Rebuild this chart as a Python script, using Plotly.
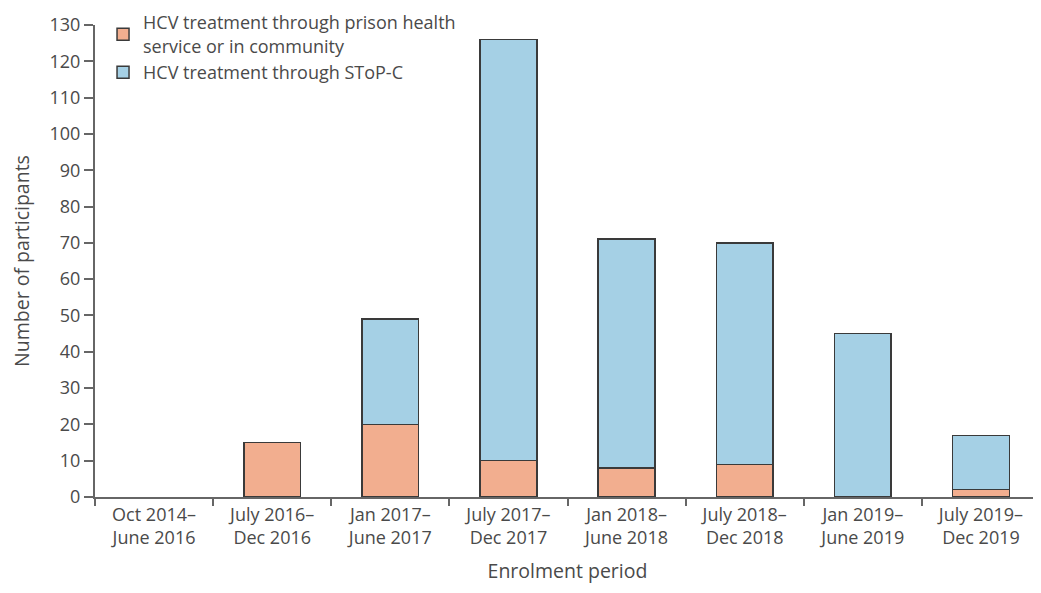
import plotly.graph_objects as go

categories = ["Oct 2014–<br>June 2016", "July 2016–<br>Dec 2016", "Jan 2017–<br>June 2017",
              "July 2017–<br>Dec 2017", "Jan 2018–<br>June 2018", "July 2018–<br>Dec 2018",
              "Jan 2019–<br>June 2019", "July 2019–<br>Dec 2019"]
prison_community = [None, 15, 20, 10, 8, 9, None, 2]
stop_c = [None, None, 29, 116, 63, 61, 45, 15]
y_ticks = list(range(0, 131, 10))

FONT = "Open Sans"
TXT = "#4a4a4a"

fig = go.Figure()
fig.add_trace(go.Bar(
    x=categories, y=prison_community,
    name="HCV treatment through prison health<br>service or in community",
    marker=dict(color="#F2AE8F", line=dict(color="#3a3a3a", width=1.5)),
    width=0.48,
))
fig.add_trace(go.Bar(
    x=categories, y=stop_c,
    name="HCV treatment through SToP-C",
    marker=dict(color="#A5D0E5", line=dict(color="#3a3a3a", width=1.5)),
    width=0.48,
))

fig.update_layout(
    barmode="stack",
    width=1033, height=576,
    margin=dict(l=87, r=1, t=17, b=87, autoexpand=False),
    plot_bgcolor="white", paper_bgcolor="white",
    font=dict(family=FONT, size=18, color=TXT),
    legend=dict(
        x=0.0085, y=1.044, xanchor="left", yanchor="top",
        font=dict(family=FONT, size=18, color=TXT),
        bgcolor="rgba(0,0,0,0)", traceorder="normal",
        itemwidth=30, tracegroupgap=4,
    ),
    showlegend=True,
)
fig.update_xaxes(
    type="category", range=[-0.5, 7.5],
    tickson="boundaries", ticks="outside", ticklen=7, tickwidth=2, tickcolor="#666",
    showline=True, linecolor="#666", linewidth=2,
    showgrid=False, zeroline=False,
    tickfont=dict(family=FONT, size=18, color=TXT),
    title=dict(text="Enrolment period", font=dict(family=FONT, size=19.5, color=TXT), standoff=26),
)
fig.update_yaxes(
    range=[0, 130], tickmode="array", tickvals=y_ticks,
    ticks="outside", ticklen=9, tickwidth=2, tickcolor="#666",
    showline=True, linecolor="#666", linewidth=2,
    showgrid=False, zeroline=False,
    tickfont=dict(family=FONT, size=18, color=TXT),
    title=dict(text="Number of participants", font=dict(family=FONT, size=19.5, color=TXT), standoff=24),
)

fig.write_html("out.html")
